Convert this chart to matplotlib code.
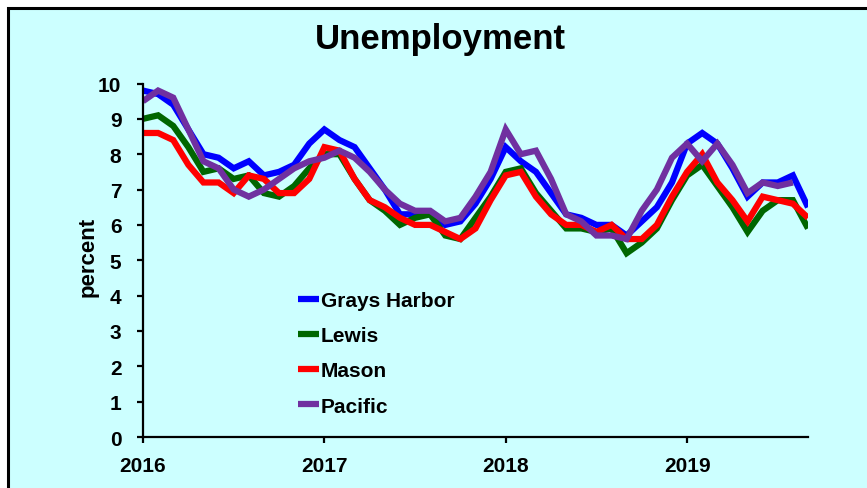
import numpy as np
import matplotlib
matplotlib.use("Agg")
import matplotlib.pyplot as plt
from matplotlib.patches import Rectangle

plt.rcParams['font.family'] = ['Liberation Sans', 'DejaVu Sans']

years = ["2016", "2017", "2018", "2019"]
series_names = ["Grays Harbor", "Lewis", "Mason", "Pacific"]

grays_harbor = [9.8, 9.7, 9.4, 8.7, 8.0, 7.9, 7.6, 7.8, 7.4, 7.5, 7.7, 8.3,
                8.7, 8.4, 8.2, 7.6, 7.0, 6.3, 6.3, 6.3, 6.0, 6.1, 6.6, 7.3,
                8.2, 7.8, 7.5, 6.9, 6.3, 6.2, 6.0, 6.0, 5.7, 6.1, 6.5, 7.2,
                8.3, 8.6, 8.3, 7.6, 6.8, 7.2, 7.2, 7.4, 6.5]
lewis = [9.0, 9.1, 8.8, 8.2, 7.5, 7.6, 7.3, 7.4, 6.9, 6.8, 7.1, 7.6,
         8.0, 8.0, 7.3, 6.7, 6.4, 6.0, 6.2, 6.3, 5.7, 5.6, 6.2, 6.8,
         7.5, 7.6, 6.9, 6.4, 5.9, 5.9, 5.8, 5.9, 5.2, 5.5, 5.9, 6.7,
         7.4, 7.7, 7.1, 6.5, 5.8, 6.4, 6.7, 6.7, 5.9]
mason = [8.6, 8.6, 8.4, 7.7, 7.2, 7.2, 6.9, 7.4, 7.3, 6.9, 6.9, 7.3,
         8.2, 8.1, 7.3, 6.7, 6.5, 6.2, 6.0, 6.0, 5.8, 5.6, 5.9, 6.7,
         7.4, 7.5, 6.8, 6.3, 6.0, 6.0, 5.8, 6.0, 5.6, 5.6, 6.0, 6.8,
         7.5, 8.0, 7.2, 6.7, 6.1, 6.8, 6.7, 6.6, 6.2]
pacific = [9.5, 9.8, 9.6, 8.7, 7.8, 7.6, 7.0, 6.8, 7.0, 7.3, 7.6, 7.8,
           7.9, 8.1, 7.9, 7.5, 7.0, 6.6, 6.4, 6.4, 6.1, 6.2, 6.8, 7.5,
           8.7, 8.0, 8.1, 7.3, 6.3, 6.1, 5.7, 5.7, 5.6, 6.4, 7.0, 7.9,
           8.3, 7.8, 8.3, 7.7, 6.9, 7.2, 7.1, 7.2]

colors = ["#0000FF", "#006600", "#FF0000", "#7030A0"]
BG = "#CCFFFF"

W, H = 867, 489
fig = plt.figure(figsize=(W / 100, H / 100), dpi=100, facecolor="white")

# outer chart frame
frame = Rectangle((8 / W, -0.2), 1.2, 1.2 - 9 / H, transform=fig.transFigure,
                  facecolor=BG, edgecolor="black", linewidth=2.2, zorder=-10)
fig.patches.append(frame)

ax = fig.add_axes([143 / W, 1 - 438 / H, (808 - 143) / W, (438 - 84.5) / H])
ax.set_facecolor(BG)

for name, data, c in zip(series_names, [grays_harbor, lewis, mason, pacific], colors):
    x = np.arange(len(data))
    ax.plot(x, data, color=c, linewidth=4.5, label=name, solid_joinstyle="miter",
            solid_capstyle="butt")

ax.set_xlim(0, 44)
ax.set_ylim(0, 10)
ax.set_yticks(range(0, 11))
ax.set_xticks([0, 12, 24, 36])
ax.set_xticklabels(years)
for s in ["top", "right"]:
    ax.spines[s].set_visible(False)
for s in ["left", "bottom"]:
    ax.spines[s].set_linewidth(1.6)
ax.tick_params(axis="y", direction="out", length=4.5, width=1.6, pad=11,
               labelsize=15)
ax.tick_params(axis="x", direction="out", length=4.5, width=1.6, pad=9,
               labelsize=15)
for lab in ax.get_xticklabels() + ax.get_yticklabels():
    lab.set_fontweight("bold")

fig.text(88 / W, 1 - 257 / H, "percent", fontsize=16, fontweight="bold",
         rotation=90, ha="center", va="center")

fig.text(440 / W, 1 - 39 / H, "Unemployment", fontsize=25, fontweight="bold",
         ha="center", va="center")

leg = ax.legend(loc="upper left", bbox_to_anchor=(298 / W, 1 - 292 / H),
                bbox_transform=fig.transFigure, frameon=False,
                prop={"weight": "bold", "size": 15}, handlelength=1.0,
                handletextpad=0.1, labelspacing=0.78, borderpad=0,
                borderaxespad=0)

fig.savefig("out.png", dpi=100, facecolor="white")
